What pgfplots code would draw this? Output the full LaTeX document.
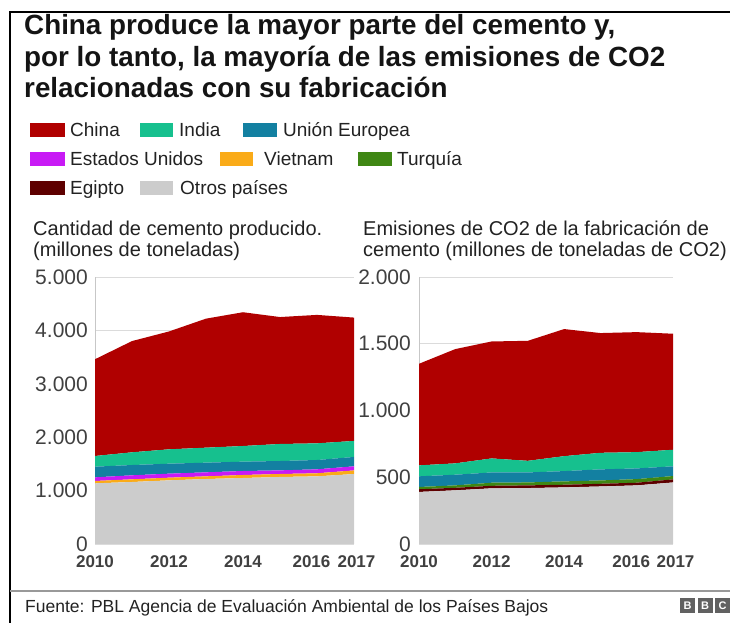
\documentclass[border=0pt]{standalone}
\usepackage{fontspec}
\setmainfont{Liberation Sans}
\usepackage{pgfplots}
\usepackage{pgfplotstable}
\pgfplotsset{compat=1.18}

\definecolor{cChina}{HTML}{B00000}
\definecolor{cIndia}{HTML}{16C08E}
\definecolor{cEU}{HTML}{1380A1}
\definecolor{cUS}{HTML}{C81AF5}
\definecolor{cVN}{HTML}{FAAB18}
\definecolor{cTR}{HTML}{3F8714}
\definecolor{cEG}{HTML}{5E0000}
\definecolor{cOther}{HTML}{CCCCCC}
\definecolor{txt}{HTML}{222222}
\definecolor{tick}{HTML}{404040}

% Cement production (Mt)
\pgfplotstableread{
year otros vn us eu india china
2010 1136 44 68 200 200 1812
2011 1161 50 75 193 238 2083
2012 1192 50 75 187 269 2207
2013 1217 50 75 181 281 2416
2014 1236 56 75 175 293 2505
2015 1255 56 68 175 319 2377
2016 1267 57 74 175 312 2405
2017 1310 68 77 175 300 2310
}\cement

% CO2 emissions from cement (Mt CO2)
\pgfplotstableread{
year otros eg tr eu india china
2010 390 20 17 80 82 761
2011 402 19 18 80 85 856
2012 417 19 23 77 105 876
2013 419 20 22 75 87 899
2014 424 20 25 77 112 952
2015 431 20 25 83 124 897
2016 439 20 27 80 122 899
2017 461 23 25 73 124 869
}\coemis

\pgfplotsset{
  bbcaxis/.style={
    scale only axis,
    enlargelimits=false,
    xmin=2010, xmax=2017, ymin=0,
    axis lines=left,
    axis line style={-, draw=black!22, line width=1bp},
    ymajorgrids,
    grid style={draw=black!14, line width=0.9bp},
    major tick length=0pt,
    xtick={2010,2012,2014,2016,2017},
    xticklabels={2010,2012,2014,\hspace*{-11bp}2016,2017\hspace*{-5bp}},
    tick label style={text=tick},
    yticklabel style={anchor=east, inner sep=0pt, xshift=-7bp,
      font=\fontsize{21bp}{21bp}\selectfont},
    xticklabel style={anchor=north, inner sep=0pt, yshift=-11bp,
      font=\bfseries\fontsize{17bp}{17bp}\selectfont},
    stack plots=y,
  }
}

\begin{document}
\begin{tikzpicture}[x=1bp,y=1bp]
\path[use as bounding box] (0,0) rectangle (730,623);
% frame
\draw[black, line width=2bp] (10,0) -- (10,611) -- (730,611);
\draw[black!40, line width=1.5bp] (10,32) -- (730,32);

% title
\begin{scope}[every node/.style={anchor=base west, inner sep=0pt, text=black!92,
   font=\bfseries\fontsize{27.8bp}{27.8bp}\selectfont}]
\node at (24,588) {China produce la mayor parte del cemento y,};
\node at (24,556) {por lo tanto, la mayoría de las emisiones de CO2};
\node at (24,525) {relacionadas con su fabricación};
\end{scope}

% legend
\begin{scope}[every node/.style={anchor=base west, inner sep=0pt, text=txt,
   font=\fontsize{19bp}{19bp}\selectfont}]
\fill[cChina] (30,486) rectangle (65,500); \node at (70,486) {China};
\fill[cIndia] (140,486) rectangle (173,500); \node at (179,486) {India};
\fill[cEU] (243,486) rectangle (277,500); \node at (283,486) {Unión Europea};
\fill[cUS] (30,457) rectangle (65,471); \node at (70,457) {Estados Unidos};
\fill[cVN] (220,457) rectangle (253,471); \node at (264,457) {Vietnam};
\fill[cTR] (358,457) rectangle (392,471); \node at (397,457) {Turquía};
\fill[cEG] (30,428) rectangle (65,442); \node at (70,428) {Egipto};
\fill[cOther] (140,428) rectangle (173,442); \node at (180,428) {Otros países};
\end{scope}

% subtitles
\begin{scope}[every node/.style={anchor=base west, inner sep=0pt, text=txt,
   font=\fontsize{20bp}{20bp}\selectfont}]
\node at (33,387) {Cantidad de cemento producido.};
\node at (33,366) {(millones de toneladas)};
\node at (363,387) {Emisiones de CO2 de la fabricación de};
\node at (363,366) {cemento (millones de toneladas de CO2)};
\end{scope}

% left chart
\begin{axis}[bbcaxis, at={(95bp,79bp)}, anchor=south west,
  width=259bp, height=267bp, ymax=5000,
  ytick={0,1000,2000,3000,4000,5000},
  yticklabels={0,1.000,2.000,3.000,4.000,5.000}]
\addplot[fill=cOther, draw=none] table[x=year, y=otros] {\cement} \closedcycle;
\addplot[fill=cVN, draw=none] table[x=year, y=vn] {\cement} \closedcycle;
\addplot[fill=cUS, draw=none] table[x=year, y=us] {\cement} \closedcycle;
\addplot[fill=cEU, draw=none] table[x=year, y=eu] {\cement} \closedcycle;
\addplot[fill=cIndia, draw=none] table[x=year, y=india] {\cement} \closedcycle;
\addplot[fill=cChina, draw=none] table[x=year, y=china] {\cement} \closedcycle;
\end{axis}

% right chart
\begin{axis}[bbcaxis, at={(419bp,79bp)}, anchor=south west,
  width=254bp, height=267bp, ymax=2000,
  ytick={0,500,1000,1500,2000},
  yticklabels={0,500,1.000,1.500,2.000},
  yticklabel style={xshift=-1bp}]
\addplot[fill=cOther, draw=none] table[x=year, y=otros] {\coemis} \closedcycle;
\addplot[fill=cEG, draw=none] table[x=year, y=eg] {\coemis} \closedcycle;
\addplot[fill=cTR, draw=none] table[x=year, y=tr] {\coemis} \closedcycle;
\addplot[fill=cEU, draw=none] table[x=year, y=eu] {\coemis} \closedcycle;
\addplot[fill=cIndia, draw=none] table[x=year, y=india] {\coemis} \closedcycle;
\addplot[fill=cChina, draw=none] table[x=year, y=china] {\coemis} \closedcycle;
\end{axis}

% source
\node[anchor=base west, inner sep=0pt, text=txt, font=\fontsize{17.5bp}{17.5bp}\selectfont]
  at (25,10) {Fuente: PBL Agencia de Evaluación Ambiental de los Países Bajos};
\begin{scope}[every node/.style={text=white, inner sep=0pt, font=\bfseries\fontsize{11bp}{11bp}\selectfont}]
\fill[black!62] (680,10) rectangle (695,25); \node at (687.5,17.5) {B};
\fill[black!62] (697.5,10) rectangle (712.5,25); \node at (705,17.5) {B};
\fill[black!62] (715,10) rectangle (730,25); \node at (722.5,17.5) {C};
\end{scope}
\end{tikzpicture}
\end{document}
